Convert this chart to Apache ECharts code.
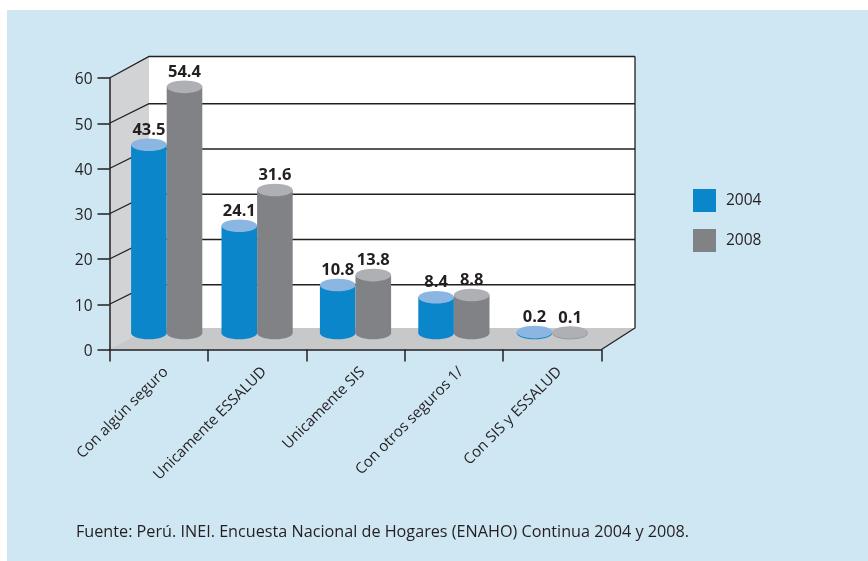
<!DOCTYPE html>
<html>
<head>
<meta charset="utf-8">
<style>html,body{margin:0;padding:0;background:#fff}#c{width:868px;height:561px}</style>
<script src="https://cdn.jsdelivr.net/npm/echarts@6/dist/echarts.min.js"></script>
</head>
<body>
<div id="c"></div>
<script>
// Data
const categories = ['Con algún seguro', 'Unicamente ESSALUD', 'Unicamente SIS', 'Con otros seguros 1/', 'Con SIS y ESSALUD'];
// values printed above the cylinders
const printed2004 = [43.5, 24.1, 10.8, 8.4, 0.2];
const printed2008 = [54.4, 31.6, 13.8, 8.8, 0.1];
// cylinder heights as drawn against the axis (the source's shapes differ slightly from its labels)
const height2004 = [41.6, 23.7, 10.6, 7.9, 0.2];
const height2008 = [54.4, 31.6, 12.8, 8.4, 0.1];
const yTicks = [10, 20, 30, 40, 50, 60];
const sourceNote = 'Fuente: Perú. INEI. Encuesta Nacional de Hogares (ENAHO) Continua 2004 y 2008.';

const FONT = '"Open Sans", sans-serif';
const INK = '#231f20';
const DEPTH_X = 39.5, DEPTH_Y = 21.5, INNER_DEPTH_Y = 19.5, BACK_RIGHT_EXTRA = 33.5;
const BASE_LIFT = 16.5, RX = 17.8, RY = 6.3;
const firstGroupShift = 8;

function renderBox(params, api) {
  const cs = params.coordSys;
  const x0 = cs.x, x1 = cs.x + cs.width;
  const yOf = v => api.coord([0, v])[1];
  const y0 = yOf(0), yTop = yOf(yTicks[yTicks.length - 1]);
  const bx0 = x0 + DEPTH_X, bx1 = x1 + BACK_RIGHT_EXTRA;
  const lineStyle = { stroke: INK, lineWidth: 1.3, fill: null };
  const children = [
    { type: 'rect', shape: { x: bx0, y: yTop - DEPTH_Y, width: bx1 - bx0, height: y0 - yTop }, style: { fill: '#ffffff' } },
    { type: 'polygon', shape: { points: [[x0, yTop], [bx0, yTop - DEPTH_Y], [bx0, y0 - DEPTH_Y], [x0, y0]] }, style: { fill: '#d1d3d4' } },
    { type: 'polygon', shape: { points: [[x0, y0], [bx0, y0 - DEPTH_Y], [bx1, y0 - DEPTH_Y], [x1, y0]] }, style: { fill: '#c7c8ca' } }
  ];
  yTicks.forEach((v, k) => {
    const y = yOf(v);
    const d = k === yTicks.length - 1 ? DEPTH_Y : INNER_DEPTH_Y;
    children.push({ type: 'polyline', shape: { points: [[x0, y], [bx0, y - d], [bx1, y - d]] }, style: lineStyle });
  });
  children.push({ type: 'polyline', shape: { points: [[bx1, yTop - DEPTH_Y], [bx1, y0 - DEPTH_Y], [x1, y0]] }, style: lineStyle });
  return { type: 'group', children };
}

function cylinderRenderer(side, body, top) {
  return function (params, api) {
    const i = api.value(0);
    const c = api.coord([i, api.value(1)]);
    const base = api.coord([i, 0]);
    const cx = c[0] + side * RX + (i === 0 ? firstGroupShift : 0);
    const topY = c[1] - BASE_LIFT, baseY = base[1] - BASE_LIFT;
    return {
      type: 'group',
      children: [
        { type: 'ellipse', shape: { cx, cy: baseY, rx: RX, ry: RY }, style: { fill: body } },
        { type: 'rect', shape: { x: cx - RX, y: topY, width: RX * 2, height: baseY - topY }, style: { fill: body } },
        { type: 'ellipse', shape: { cx, cy: topY, rx: RX, ry: RY }, style: { fill: top } },
        { type: 'text', style: { x: cx, y: topY - 14.5, text: api.value(2).toFixed(1), fill: INK,
            font: 'bold 16.5px ' + FONT, textAlign: 'center', textVerticalAlign: 'middle' } }
      ]
    };
  };
}

const rows = (heights, printed) => heights.map((h, i) => [i, h, printed[i]]);

const chart = echarts.init(document.getElementById('c'), null, { renderer: 'canvas' });
chart.setOption({
  animation: false,
  backgroundColor: '#ffffff',
  graphic: [{ type: 'rect', z: -10, silent: true, shape: { x: 7, y: 10, width: 861, height: 551 }, style: { fill: '#cfe6f3' } }],
  title: { text: sourceNote, left: 76, top: 524, padding: 0,
    textStyle: { fontFamily: FONT, fontWeight: 'normal', fontSize: 16.2, color: INK } },
  legend: {
    orient: 'vertical', left: 693, top: 189, padding: 0, itemWidth: 23, itemHeight: 23, itemGap: 17,
    icon: 'rect', data: ['2004', '2008'], selectedMode: false,
    textStyle: { fontFamily: FONT, fontSize: 15.5, color: INK, padding: [0, 0, 0, 5] }
  },
  grid: { left: 109.5, width: 492, top: 78, height: 271.5 },
  xAxis: {
    type: 'category', data: categories, z: 5,
    axisLine: { lineStyle: { color: INK, width: 1.5 } },
    axisTick: { show: true, length: 12, lineStyle: { color: INK, width: 1.5 } },
    axisLabel: { interval: 0, rotate: 45, margin: 13, color: INK, fontFamily: FONT, fontSize: 15,
      verticalAlign: 'top', lineHeight: 20 }
  },
  yAxis: {
    type: 'value', min: 0, max: 60, interval: 10, z: 5,
    splitLine: { show: false },
    axisLine: { show: true, lineStyle: { color: INK, width: 1.5 } },
    axisTick: { show: true, length: 12, lineStyle: { color: INK, width: 1.5 } },
    axisLabel: { margin: 17, color: INK, fontFamily: FONT, fontSize: 15.5, verticalAlign: 'top', lineHeight: 4 }
  },
  series: [
    { type: 'custom', name: 'box', z: 1, silent: true, clip: false, data: [[0, 0]], renderItem: renderBox, encode: { x: 0, y: 1 } },
    { type: 'custom', name: '2004', z: 2, silent: true, clip: false, itemStyle: { color: '#0b86cb' },
      data: rows(height2004, printed2004), encode: { x: 0, y: 1 }, renderItem: cylinderRenderer(-1, '#0b86cb', '#8bb6e2') },
    { type: 'custom', name: '2008', z: 3, silent: true, clip: false, itemStyle: { color: '#808285' },
      data: rows(height2008, printed2008), encode: { x: 0, y: 1 }, renderItem: cylinderRenderer(1, '#808285', '#aeb0b3') }
  ]
});
</script>
</body>
</html>
